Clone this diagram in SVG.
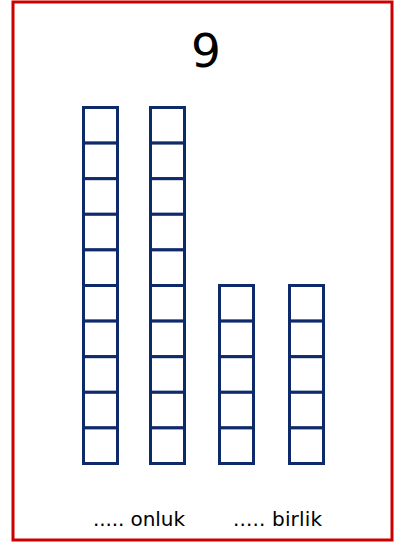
<svg xmlns="http://www.w3.org/2000/svg" width="398" height="546" viewBox="0 0 398 546">
<defs>
<style>
.frame{fill:#fff;stroke:#cc0000;stroke-width:3}
.cell{fill:#fff;stroke:#0f2a6b;stroke-width:3}
.t{font-family:"DejaVu Sans","Liberation Sans",sans-serif;fill:#000}
</style>
</defs>
<rect width="398" height="546" fill="#fff"/>
<rect class="frame" x="13" y="2" width="379" height="538"/>
<g id="number"><text class="t" x="206" y="67" font-size="47" text-anchor="middle">9</text></g>
<g id="tens1">
<rect class="cell" x="83.5" y="107.5" width="34" height="35.6"/>
<rect class="cell" x="83.5" y="143.1" width="34" height="35.6"/>
<rect class="cell" x="83.5" y="178.7" width="34" height="35.6"/>
<rect class="cell" x="83.5" y="214.3" width="34" height="35.6"/>
<rect class="cell" x="83.5" y="249.9" width="34" height="35.6"/>
<rect class="cell" x="83.5" y="285.5" width="34" height="35.6"/>
<rect class="cell" x="83.5" y="321.1" width="34" height="35.6"/>
<rect class="cell" x="83.5" y="356.7" width="34" height="35.6"/>
<rect class="cell" x="83.5" y="392.3" width="34" height="35.6"/>
<rect class="cell" x="83.5" y="427.9" width="34" height="35.6"/>
</g>
<g id="tens2">
<rect class="cell" x="150.5" y="107.5" width="34" height="35.6"/>
<rect class="cell" x="150.5" y="143.1" width="34" height="35.6"/>
<rect class="cell" x="150.5" y="178.7" width="34" height="35.6"/>
<rect class="cell" x="150.5" y="214.3" width="34" height="35.6"/>
<rect class="cell" x="150.5" y="249.9" width="34" height="35.6"/>
<rect class="cell" x="150.5" y="285.5" width="34" height="35.6"/>
<rect class="cell" x="150.5" y="321.1" width="34" height="35.6"/>
<rect class="cell" x="150.5" y="356.7" width="34" height="35.6"/>
<rect class="cell" x="150.5" y="392.3" width="34" height="35.6"/>
<rect class="cell" x="150.5" y="427.9" width="34" height="35.6"/>
</g>
<g id="ones1">
<rect class="cell" x="219.5" y="285.5" width="34" height="35.6"/>
<rect class="cell" x="219.5" y="321.1" width="34" height="35.6"/>
<rect class="cell" x="219.5" y="356.7" width="34" height="35.6"/>
<rect class="cell" x="219.5" y="392.3" width="34" height="35.6"/>
<rect class="cell" x="219.5" y="427.9" width="34" height="35.6"/>
</g>
<g id="ones2">
<rect class="cell" x="289.5" y="285.5" width="34" height="35.6"/>
<rect class="cell" x="289.5" y="321.1" width="34" height="35.6"/>
<rect class="cell" x="289.5" y="356.7" width="34" height="35.6"/>
<rect class="cell" x="289.5" y="392.3" width="34" height="35.6"/>
<rect class="cell" x="289.5" y="427.9" width="34" height="35.6"/>
</g>
<g id="label-onluk"><text class="t" x="93" y="526" font-size="20" textLength="92" lengthAdjust="spacing">..... onluk</text></g>
<g id="label-birlik"><text class="t" x="233" y="526" font-size="20" textLength="89" lengthAdjust="spacing">..... birlik</text></g>
<g id="connectors"></g>
</svg>
